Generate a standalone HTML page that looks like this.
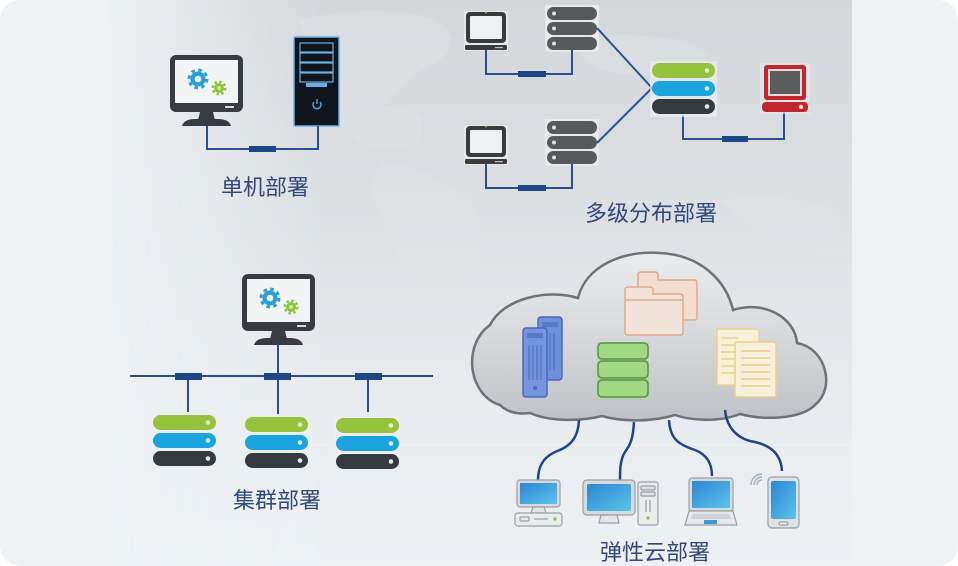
<!DOCTYPE html>
<html><head><meta charset="utf-8"><style>
html,body{margin:0;padding:0;background:#fff;}
svg{display:block;}
text{font-family:"Liberation Sans","Noto Sans CJK SC",sans-serif;}
</style></head><body>
<svg width="958" height="566" viewBox="0 0 958 566" xmlns="http://www.w3.org/2000/svg">
<defs>
  <linearGradient id="vg" x1="0" y1="0" x2="0" y2="1">
    <stop offset="0" stop-color="#d3d7da"/>
    <stop offset="0.4" stop-color="#dde1e4"/>
    <stop offset="0.72" stop-color="#e8ecef"/>
    <stop offset="1" stop-color="#edf1f4"/>
  </linearGradient>
  <linearGradient id="hm" x1="0" y1="0" x2="852" y2="0" gradientUnits="userSpaceOnUse">
    <stop offset="0.12" stop-color="#000"/>
    <stop offset="0.38" stop-color="#fff"/>
    <stop offset="1" stop-color="#fff"/>
  </linearGradient>
  <mask id="fade"><rect x="0" y="0" width="852" height="566" fill="url(#hm)"/></mask>
  <clipPath id="card"><rect x="0" y="0" width="958" height="566" rx="20"/></clipPath>
  <linearGradient id="cloudg" x1="0" y1="0" x2="0" y2="1">
    <stop offset="0" stop-color="#ebecee"/>
    <stop offset="0.55" stop-color="#d4d6d9"/>
    <stop offset="1" stop-color="#bfc2c6"/>
  </linearGradient>
  <linearGradient id="scr" x1="0" y1="0" x2="1" y2="1">
    <stop offset="0" stop-color="#2b86d4"/>
    <stop offset="1" stop-color="#5cc3ea"/>
  </linearGradient>
  <g id="mon">
    <rect x="0" y="0" width="73" height="57" rx="6" fill="#383c42"/>
    <rect x="5" y="5" width="63" height="43" fill="#f2f4f6"/>
    <rect x="55" y="51" width="9" height="2" fill="#d8dadc"/>
    <path d="M30 57 L43 57 L45 65 L28 65 Z" fill="#383c42"/>
    <path d="M12 71 Q14 64 25 64 L48 64 Q59 64 61 71 Z" fill="#383c42"/>
    <circle cx="28" cy="24" r="7.5" fill="#2a9fd6"/>
    <circle cx="28" cy="24" r="9" fill="none" stroke="#2a9fd6" stroke-width="3" stroke-dasharray="3.5 3.57"/>
    <circle cx="28" cy="24" r="3.3" fill="#f2f4f6"/>
    <circle cx="49" cy="33" r="5" fill="#8cc63f"/>
    <circle cx="49" cy="33" r="6.3" fill="none" stroke="#8cc63f" stroke-width="2.4" stroke-dasharray="2.5 2.45"/>
    <circle cx="49" cy="33" r="2" fill="#d6ea9c"/>
  </g>
  <g id="bigsrv">
    <rect x="-2" y="-2" width="67" height="56" fill="#edeff1" opacity="0.7"/>
    <rect x="0" y="0" width="63" height="15" rx="7.5" fill="#97c23d"/>
    <rect x="0" y="18" width="63" height="15" rx="7.5" fill="#1ba3dd"/>
    <rect x="0" y="36" width="63" height="15" rx="7.5" fill="#343a40"/>
    <circle cx="55" cy="7.5" r="2.3" fill="#e6f0cf"/>
    <circle cx="55" cy="25.5" r="2.3" fill="#d6eefa"/>
    <circle cx="55" cy="43.5" r="2.3" fill="#e9ecef"/>
  </g>
  <g id="gsrv">
    <rect x="-2" y="-2" width="54" height="47" fill="#e7e9eb"/>
    <rect x="0" y="0" width="50" height="13" rx="6.5" fill="#58595b"/>
    <rect x="0" y="15" width="50" height="13" rx="6.5" fill="#58595b"/>
    <rect x="0" y="30" width="50" height="13" rx="6.5" fill="#58595b"/>
    <circle cx="7" cy="6.5" r="2" fill="#e0e0e0"/>
    <circle cx="7" cy="21.5" r="2" fill="#e0e0e0"/>
    <circle cx="7" cy="36.5" r="2" fill="#e0e0e0"/>
  </g>
  <g id="lap">
    <rect x="-1" y="-1" width="44" height="40" fill="#e6e8ea"/>
    <rect x="1" y="0" width="40" height="31" rx="4" fill="#3b3b3b"/>
    <rect x="5" y="4" width="32" height="23" rx="1" fill="#eef1f4"/>
    <rect x="0" y="33" width="42" height="5" rx="1.5" fill="#3b3b3b"/>
    <rect x="30" y="35" width="8" height="1.2" fill="#bdbdbd"/>
    <circle cx="21" cy="0.5" r="1" fill="#7cbf3a"/>
  </g>
</defs>

<rect x="0" y="0" width="958" height="566" rx="20" fill="#eef2f5"/>
<g clip-path="url(#card)">
  <g mask="url(#fade)">
    <rect x="0" y="0" width="852" height="566" fill="url(#vg)"/>
    <g fill="#e3e6e9" opacity="0.35">
      <path d="M300 20 Q360 5 420 15 Q470 30 440 60 Q400 80 380 110 Q350 140 330 120 Q300 90 310 60 Z"/>
      <path d="M350 110 Q390 100 420 115 Q430 140 400 150 Q360 150 350 130 Z"/>
      <path d="M380 160 Q430 170 470 200 Q500 240 460 280 Q420 300 400 260 Q380 220 370 190 Z"/>
      <path d="M560 40 Q620 30 680 40 Q720 50 700 70 Q650 80 600 70 Z"/>
      <path d="M720 200 Q780 190 840 210 L852 260 Q800 250 760 240 Z"/>
    </g>
    <g stroke="#f3f5f7" stroke-width="1.2" fill="none" opacity="0.6">
      <path d="M130 445 L852 445"/>
      <path d="M130 528 L852 528"/>
    </g>
  </g>
</g>

<!-- ========== 单机部署 ========== -->
<use href="#mon" x="170" y="55"/>
<rect x="294" y="37" width="45" height="89" rx="1" fill="#10151b" stroke="#6fb2e6" stroke-width="1.5"/>
<g fill="none" stroke="#6ab0e4" stroke-width="1.2">
  <rect x="300" y="43" width="33" height="9"/>
  <rect x="300" y="53" width="33" height="9"/>
  <rect x="300" y="63" width="33" height="9"/>
  <rect x="300" y="73" width="33" height="9"/>
</g>
<rect x="306" y="83" width="21" height="4" fill="#6ab0e4"/>
<path d="M314 102 A4 4 0 1 0 320 102" fill="none" stroke="#4aa3e0" stroke-width="1.5"/>
<line x1="317" y1="99" x2="317" y2="104" stroke="#4aa3e0" stroke-width="1.5"/>
<path d="M207 126 V149 H318 V126" fill="none" stroke="#2a4f8f" stroke-width="2"/>
<rect x="249" y="146" width="27" height="6" fill="#1e4785"/>
<text x="265" y="195" font-size="22" fill="#30497a" text-anchor="middle">单机部署</text>

<!-- ========== 多级分布部署 ========== -->
<use href="#lap" x="465" y="12"/>
<use href="#lap" x="465" y="126"/>
<use href="#gsrv" x="547" y="7"/>
<use href="#gsrv" x="547" y="121"/>
<g fill="none" stroke="#2a4f8f" stroke-width="2">
  <path d="M486 50 V74 H572 V50"/>
  <path d="M486 164 V188 H572 V164"/>
  <path d="M597 28 L652 88"/>
  <path d="M597 143 L652 88"/>
  <path d="M683 115 V139 H784 V112"/>
</g>
<rect x="518" y="71" width="28" height="6" fill="#1e4785"/>
<rect x="518" y="185" width="28" height="6" fill="#1e4785"/>
<rect x="722" y="136" width="26" height="6" fill="#1e4785"/>
<use href="#bigsrv" x="652" y="63"/>
<!-- red computer -->
<rect x="760" y="63" width="50" height="51" fill="#e6e8ea" opacity="0.6"/>
<rect x="764" y="65" width="42" height="35" rx="3" fill="#c0262c"/>
<rect x="768" y="69" width="34" height="27" fill="#f0d8d8"/>
<rect x="770" y="71" width="30" height="23" fill="#5a5c5e"/>
<rect x="762" y="102" width="46" height="10" rx="4" fill="#c0262c"/>
<circle cx="801" cy="107" r="2.2" fill="#f3e0c8"/>
<text x="651" y="221" font-size="22" fill="#30497a" text-anchor="middle">多级分布部署</text>

<!-- ========== 集群部署 ========== -->
<use href="#mon" x="242" y="274"/>
<g fill="none" stroke="#2a4f8f" stroke-width="2">
  <path d="M130 376 H433"/>
  <path d="M278 345 V414"/>
  <path d="M188 376 V412"/>
  <path d="M368 376 V412"/>
</g>
<rect x="175" y="373" width="27" height="7" fill="#1e4785"/>
<rect x="264" y="373" width="27" height="7" fill="#1e4785"/>
<rect x="355" y="373" width="27" height="7" fill="#1e4785"/>
<use href="#bigsrv" x="153" y="415"/>
<use href="#bigsrv" x="245" y="417"/>
<use href="#bigsrv" x="336" y="418"/>
<text x="277" y="508" font-size="22" fill="#30497a" text-anchor="middle">集群部署</text>

<!-- ========== 弹性云部署 ========== -->
<path d="M500 405 C468 395 462 345 490 325 C502 300 545 288 578 298 C586 265 625 250 660 253 C700 255 726 280 733 310 C765 300 795 318 797 343 C826 348 836 388 815 405 C800 420 762 420 740 414 C720 422 692 421 675 415 C652 422 622 422 602 416 C578 422 548 421 530 413 C516 415 506 411 500 405 Z" fill="url(#cloudg)" stroke="#6f7276" stroke-width="2.5"/>
<!-- folders -->
<g stroke="#e2a987" stroke-width="1.5" fill="#f3ddd0">
  <path d="M638 283 L638 275 Q638 272 641 272 L655 272 Q658 272 658 275 L658 280 L694 280 Q697 280 697 283 L697 317 Q697 320 694 320 L641 320 Q638 320 638 317 Z"/>
  <path d="M625 297 L625 290 Q625 287 628 287 L650 287 Q653 287 653 290 L653 294 L680 294 Q683 294 683 297 L683 332 Q683 335 680 335 L628 335 Q625 335 625 332 Z" fill="#f1e2da"/>
  <path d="M625 300 L683 300" fill="none"/>
</g>
<!-- blue servers -->
<rect x="538" y="317" width="24" height="63" rx="3" fill="#6f8fdb" stroke="#4b68b8" stroke-width="1.5"/>
<rect x="542" y="322" width="16" height="5" fill="#5878c8"/>
<rect x="523" y="328" width="24" height="69" rx="3" fill="#7594de" stroke="#4b68b8" stroke-width="1.5"/>
<rect x="527" y="333" width="16" height="5" fill="#5878c8"/>
<g stroke="#4b68b8" stroke-width="1">
  <line x1="529" y1="345" x2="529" y2="380"/>
  <line x1="533" y1="345" x2="533" y2="380"/>
  <line x1="537" y1="345" x2="537" y2="380"/>
  <line x1="541" y1="345" x2="541" y2="380"/>
  <line x1="550" y1="333" x2="550" y2="370"/>
  <line x1="554" y1="333" x2="554" y2="370"/>
</g>
<circle cx="535" cy="388" r="2" fill="#4b68b8"/>
<!-- green stack -->
<rect x="597" y="342" width="52" height="57" fill="#a9dc92" opacity="0.8"/>
<g fill="#a0d884" stroke="#5b8f47" stroke-width="1.5">
  <rect x="598" y="343" width="50" height="16" rx="4"/>
  <rect x="598" y="361" width="50" height="17" rx="4"/>
  <rect x="598" y="380" width="50" height="17" rx="4"/>
</g>
<!-- documents -->
<rect x="717" y="329" width="42" height="56" rx="2" fill="#f8f0d8" stroke="#ead08a" stroke-width="1.5"/>
<g stroke="#e6c97a" stroke-width="1.2">
  <line x1="721" y1="338" x2="738" y2="338"/>
  <line x1="721" y1="345" x2="738" y2="345"/>
  <line x1="721" y1="352" x2="738" y2="352"/>
  <line x1="721" y1="359" x2="738" y2="359"/>
  <line x1="721" y1="366" x2="738" y2="366"/>
  <line x1="721" y1="373" x2="738" y2="373"/>
</g>
<rect x="735" y="342" width="41" height="55" rx="2" fill="#f7f0da" stroke="#ead08a" stroke-width="1.5"/>
<g stroke="#e6c97a" stroke-width="1.2">
  <line x1="741" y1="351" x2="770" y2="351"/>
  <line x1="741" y1="358" x2="770" y2="358"/>
  <line x1="741" y1="365" x2="770" y2="365"/>
  <line x1="741" y1="372" x2="770" y2="372"/>
  <line x1="741" y1="379" x2="770" y2="379"/>
  <line x1="741" y1="386" x2="770" y2="386"/>
</g>
<!-- cloud connectors -->
<g fill="none" stroke="#1f4585" stroke-width="2.5">
  <path d="M579 420 C578 442 566 448 555 452 C542 458 538 468 538 480"/>
  <path d="M634 422 C633 440 630 445 625 452 C620 460 620 470 620 480"/>
  <path d="M669 420 C670 440 680 445 695 450 C708 455 712 465 712 476"/>
  <path d="M725 410 C727 430 740 440 755 442 C772 446 781 455 782 471"/>
</g>
<!-- devices -->
<g stroke="#9aa0a6" stroke-width="1.2">
  <rect x="517" y="480" width="43" height="27" rx="3" fill="#d8dbde"/>
  <rect x="520" y="483" width="37" height="21" fill="url(#scr)" stroke="none"/>
  <path d="M533 507 L544 507 L546 513 L531 513 Z" fill="#e3e5e8"/>
  <rect x="515" y="513" width="47" height="13" rx="3" fill="#eaecee"/>
  <rect x="520" y="517" width="9" height="4" rx="1" fill="#eaecee"/>
  <line x1="534" y1="519" x2="548" y2="519"/>
  <circle cx="555" cy="519" r="1.6" fill="#7cbf3a" stroke="none"/>
  <rect x="583" y="480" width="52" height="35" rx="4" fill="#d8dbde"/>
  <rect x="587" y="484" width="44" height="27" rx="2" fill="url(#scr)" stroke="none"/>
  <path d="M601 515 L617 515 L619 523 L599 523 Z" fill="#e3e5e8"/>
  <rect x="638" y="482" width="20" height="43" rx="2" fill="#eaecee"/>
  <rect x="641" y="486" width="14" height="4" rx="1" fill="#dfe2e5"/>
  <rect x="641" y="492" width="14" height="4" rx="1" fill="#dfe2e5"/>
  <line x1="646" y1="500" x2="646" y2="512"/>
  <line x1="650" y1="500" x2="650" y2="512"/>
  <circle cx="648" cy="518" r="1.6" fill="#7cbf3a" stroke="none"/>
  <rect x="689" y="478" width="44" height="33" rx="3" fill="#d8dbde"/>
  <rect x="692" y="481" width="38" height="27" rx="1" fill="url(#scr)" stroke="none"/>
  <path d="M689 511 L733 511 L737 525 L685 525 Z" fill="#e6e8eb"/>
  <path d="M693 514 L729 514 L731 519 L691 519 Z" fill="#cfd3d7" stroke="none"/>
  <rect x="704" y="520" width="13" height="4" fill="#3a97dc" stroke="none"/>
  <rect x="768" y="477" width="31" height="51" rx="4" fill="#dfe2e5"/>
  <rect x="771" y="481" width="25" height="38" rx="2" fill="url(#scr)" stroke="none"/>
  <rect x="779" y="522" width="9" height="3" rx="1.5" fill="#eef0f2"/>
</g>
<g fill="none" stroke="#9fb3c0" stroke-width="1.5">
  <path d="M757 485 A5 5 0 0 1 762 480"/>
  <path d="M754 485 A8 8 0 0 1 762 477"/>
  <path d="M751 485 A11 11 0 0 1 762 474"/>
</g>
<text x="655" y="560" font-size="22" fill="#30497a" text-anchor="middle">弹性云部署</text>
</svg>
</body></html>
